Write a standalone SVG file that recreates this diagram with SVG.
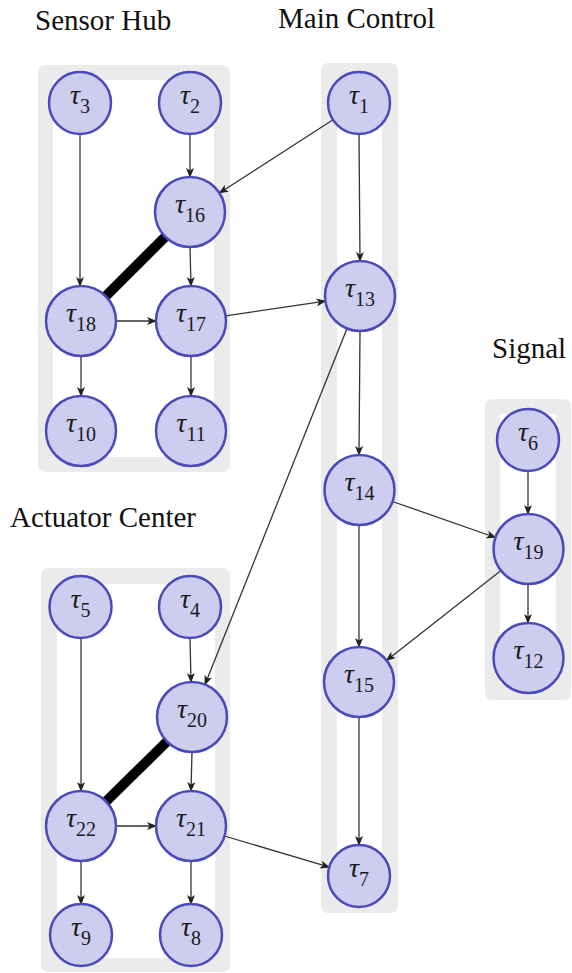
<svg xmlns="http://www.w3.org/2000/svg" width="572" height="973" viewBox="0 0 572 973">
<style>
.frame{fill:#ebebeb}
.inner{fill:#ffffff}
.title{font-family:"Liberation Serif","Times New Roman",serif;font-size:29px;fill:#111}
.node circle{fill:#cdcdf0;stroke:#4a4ab8;stroke-width:2.5}
.node text{font-family:"Liberation Serif","Times New Roman",serif;font-size:28px;fill:#1a1a1a;text-anchor:middle}
.node .t{font-style:italic}
.node .s{font-size:20px}
.edge{stroke:#333;stroke-width:1.3;fill:none;marker-end:url(#arr)}
.thick{stroke:#000;stroke-width:10;fill:none}
</style>
<defs>
<marker id="arr" markerWidth="10" markerHeight="8" refX="9" refY="4" orient="auto" markerUnits="userSpaceOnUse">
<path d="M0,0 L10,4 L0,8 L2.5,4 Z" fill="#222"/>
</marker>
</defs>
<g id="clusters">
<g id="cluster-sensor">
<rect class="frame" x="38" y="65" width="192" height="407" rx="7"/>
<rect class="inner" x="53" y="80" width="161" height="377"/>
</g>
<g id="cluster-main">
<rect class="frame" x="321" y="63" width="77" height="850" rx="7"/>
<rect class="inner" x="337" y="78" width="45" height="820"/>
</g>
<g id="cluster-signal">
<rect class="frame" x="485" y="399" width="86" height="301" rx="7"/>
<rect class="inner" x="500" y="414" width="56" height="271"/>
</g>
<g id="cluster-actuator">
<rect class="frame" x="41" y="568" width="189" height="404" rx="7"/>
<rect class="inner" x="57" y="584" width="158" height="374"/>
</g>
</g>
<g id="titles">
<text class="title" x="35" y="30">Sensor Hub</text>
<text class="title" x="278" y="28">Main Control</text>
<text class="title" x="492" y="358">Signal</text>
<text class="title" x="10" y="527">Actuator Center</text>
</g>
<g id="connectors">
<line class="thick" x1="165.3" y1="236.7" x2="105.7" y2="296.3"/>
<line class="thick" x1="167" y1="741.5" x2="106" y2="801.5"/>
<line class="edge" x1="80" y1="134" x2="80" y2="286"/>
<line class="edge" x1="190" y1="134" x2="190" y2="177"/>
<line class="edge" x1="190" y1="247" x2="191" y2="286"/>
<line class="edge" x1="116" y1="321" x2="156" y2="321"/>
<line class="edge" x1="81" y1="356" x2="81" y2="396"/>
<line class="edge" x1="191" y1="356" x2="191" y2="396"/>
<line class="edge" x1="333" y1="119.8" x2="219.4" y2="193"/>
<line class="edge" x1="359" y1="134" x2="360" y2="261"/>
<line class="edge" x1="225.6" y1="315.9" x2="325.4" y2="301.1"/>
<line class="edge" x1="360" y1="331" x2="359" y2="455"/>
<line class="edge" x1="347" y1="328.5" x2="205" y2="684.5"/>
<line class="edge" x1="392.5" y1="501.5" x2="495.5" y2="537.5"/>
<line class="edge" x1="359" y1="525" x2="359" y2="647"/>
<line class="edge" x1="528" y1="471" x2="528" y2="514"/>
<line class="edge" x1="528" y1="584" x2="528" y2="623"/>
<line class="edge" x1="501" y1="570.6" x2="386.5" y2="660.4"/>
<line class="edge" x1="359" y1="717" x2="359" y2="845"/>
<line class="edge" x1="81" y1="638" x2="81" y2="791"/>
<line class="edge" x1="190" y1="638" x2="191" y2="682"/>
<line class="edge" x1="192" y1="752" x2="191" y2="791"/>
<line class="edge" x1="116" y1="826" x2="156" y2="826"/>
<line class="edge" x1="81" y1="861" x2="81" y2="904"/>
<line class="edge" x1="191" y1="861" x2="191" y2="904"/>
<line class="edge" x1="224.5" y1="836" x2="329.3" y2="867.2"/>
</g>
<g id="n3" class="node"><circle cx="80" cy="103" r="31"/><text x="80" y="104"><tspan class="t">τ</tspan><tspan class="s" dy="9">3</tspan></text></g>
<g id="n2" class="node"><circle cx="190" cy="103" r="31"/><text x="190" y="104"><tspan class="t">τ</tspan><tspan class="s" dy="9">2</tspan></text></g>
<g id="n16" class="node"><circle cx="190" cy="212" r="35"/><text x="190" y="213"><tspan class="t">τ</tspan><tspan class="s" dy="9">16</tspan></text></g>
<g id="n18" class="node"><circle cx="81" cy="321" r="35"/><text x="81" y="322"><tspan class="t">τ</tspan><tspan class="s" dy="9">18</tspan></text></g>
<g id="n17" class="node"><circle cx="191" cy="321" r="35"/><text x="191" y="322"><tspan class="t">τ</tspan><tspan class="s" dy="9">17</tspan></text></g>
<g id="n10" class="node"><circle cx="81" cy="431" r="35"/><text x="81" y="432"><tspan class="t">τ</tspan><tspan class="s" dy="9">10</tspan></text></g>
<g id="n11" class="node"><circle cx="191" cy="431" r="35"/><text x="191" y="432"><tspan class="t">τ</tspan><tspan class="s" dy="9">11</tspan></text></g>
<g id="n1" class="node"><circle cx="359" cy="103" r="31"/><text x="359" y="104"><tspan class="t">τ</tspan><tspan class="s" dy="9">1</tspan></text></g>
<g id="n13" class="node"><circle cx="360" cy="296" r="35"/><text x="360" y="297"><tspan class="t">τ</tspan><tspan class="s" dy="9">13</tspan></text></g>
<g id="n14" class="node"><circle cx="359.5" cy="490" r="35"/><text x="359.5" y="491"><tspan class="t">τ</tspan><tspan class="s" dy="9">14</tspan></text></g>
<g id="n15" class="node"><circle cx="359" cy="682" r="35"/><text x="359" y="683"><tspan class="t">τ</tspan><tspan class="s" dy="9">15</tspan></text></g>
<g id="n7" class="node"><circle cx="359" cy="876" r="31"/><text x="359" y="877"><tspan class="t">τ</tspan><tspan class="s" dy="9">7</tspan></text></g>
<g id="n6" class="node"><circle cx="528" cy="440" r="31"/><text x="528" y="441"><tspan class="t">τ</tspan><tspan class="s" dy="9">6</tspan></text></g>
<g id="n19" class="node"><circle cx="528.5" cy="549" r="35"/><text x="528.5" y="550"><tspan class="t">τ</tspan><tspan class="s" dy="9">19</tspan></text></g>
<g id="n12" class="node"><circle cx="528.5" cy="658" r="35"/><text x="528.5" y="659"><tspan class="t">τ</tspan><tspan class="s" dy="9">12</tspan></text></g>
<g id="n5" class="node"><circle cx="80.5" cy="607" r="31"/><text x="80.5" y="608"><tspan class="t">τ</tspan><tspan class="s" dy="9">5</tspan></text></g>
<g id="n4" class="node"><circle cx="190" cy="607" r="31"/><text x="190" y="608"><tspan class="t">τ</tspan><tspan class="s" dy="9">4</tspan></text></g>
<g id="n20" class="node"><circle cx="192" cy="717" r="35"/><text x="192" y="718"><tspan class="t">τ</tspan><tspan class="s" dy="9">20</tspan></text></g>
<g id="n22" class="node"><circle cx="81" cy="826" r="35"/><text x="81" y="827"><tspan class="t">τ</tspan><tspan class="s" dy="9">22</tspan></text></g>
<g id="n21" class="node"><circle cx="191" cy="826" r="35"/><text x="191" y="827"><tspan class="t">τ</tspan><tspan class="s" dy="9">21</tspan></text></g>
<g id="n9" class="node"><circle cx="81" cy="935" r="31"/><text x="81" y="936"><tspan class="t">τ</tspan><tspan class="s" dy="9">9</tspan></text></g>
<g id="n8" class="node"><circle cx="191" cy="935" r="31"/><text x="191" y="936"><tspan class="t">τ</tspan><tspan class="s" dy="9">8</tspan></text></g>
</svg>
